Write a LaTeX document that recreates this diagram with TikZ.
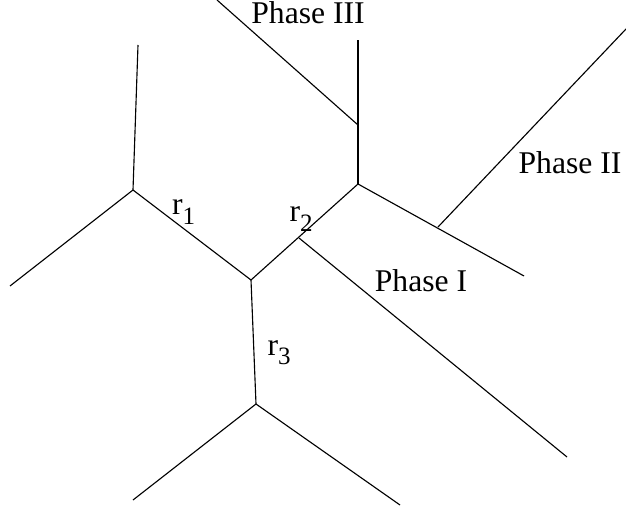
\documentclass[tikz,border=0pt]{standalone}
\usepackage{fontspec}
\setmainfont{Liberation Serif}
\newcommand\lensub[1]{\raisebox{-3.8pt}{\fontsize{10}{12}\selectfont #1}}
\begin{document}
\begin{tikzpicture}[x=0.4pt, y=-0.4pt,
	edge/.style={draw, line width=0.45pt},
	phase/.style={anchor=base, inner sep=0pt, font=\fontsize{12.65}{15}\selectfont},
	len/.style={anchor=base west, inner sep=0pt, font=\fontsize{12.65}{15}\selectfont}]
	\useasboundingbox (0,0) rectangle (626,512);
	\coordinate (a) at (133,190);
	\coordinate (b) at (251,280);
	\coordinate (p) at (299,238);
	\coordinate (d) at (358,184);
	\coordinate (f) at (358,125);
	\coordinate (q) at (438,227);
	\coordinate (e) at (256,404);
	\coordinate (a1) at (138,45);
	\coordinate (a2) at (10,286);
	\coordinate (f1) at (358,40);
	\coordinate (f2) at (217,0);
	\coordinate (d1) at (524,276);
	\coordinate (q1) at (626,29);
	\coordinate (p1) at (567,457);
	\coordinate (e1) at (133,500);
	\coordinate (e2) at (400,505);
	\node[len] (r1) at (171.5,215) {r\lensub{1}};
	\node[len] (r2) at (289,222) {r\lensub{2}};
	\node[len] (r3) at (267,355) {r\lensub{3}};
	\node[phase] (ph1) at (421,292) {Phase I};
	\node[phase] (ph2) at (570,174) {Phase II};
	\node[phase] (ph3) at (308,24) {Phase III};
	\draw[edge] (a) -- (a1);
	\draw[edge] (a) -- (a2);
	\draw[edge] (a) -- (b);
	\draw[edge] (b) -- (d);
	\draw[edge] (b) -- (e);
	\draw[edge] (e) -- (e1);
	\draw[edge] (e) -- (e2);
	\draw[edge] (p) -- (p1);
	\draw[edge] (d) -- (f);
	\draw[edge] (f) -- (f1);
	\draw[edge] (f) -- (f2);
	\draw[edge] (d) -- (d1);
	\draw[edge] (q) -- (q1);
\end{tikzpicture}
\end{document}
